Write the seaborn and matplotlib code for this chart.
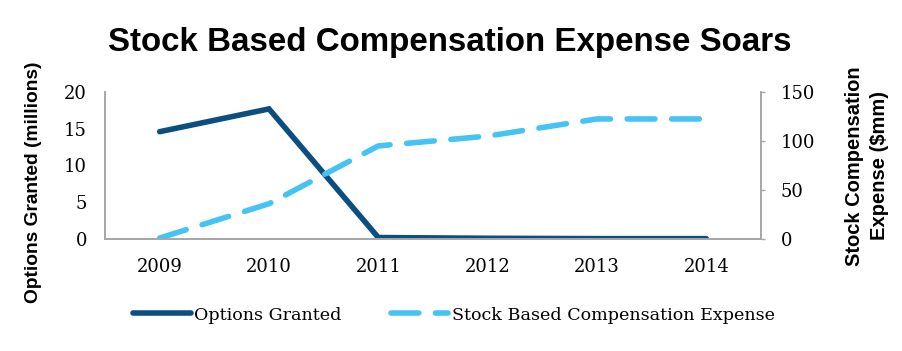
import pandas as pd
import numpy as np
import seaborn as sns
import matplotlib.pyplot as plt

years = ["2009", "2010", "2011", "2012", "2013", "2014"]
options_granted = [14.6, 17.7, 0.2, 0.1, 0.05, 0.05]  # millions
sbc_expense = [1.0, 36.0, 95.0, 105.0, 122.5, 122.5]  # $mm

dark_blue = "#0b4f80"
light_blue = "#45c4f4"
spine_gray = "#a6a6a6"

sns.set_theme(style="white")
plt.rcParams["font.family"] = ["DejaVu Serif"]
plt.rcParams["text.color"] = "black"

df = pd.DataFrame({"year": years, "options": options_granted, "sbc": sbc_expense})
df["pos"] = np.arange(len(years))

W, H = 902, 351
fig = plt.figure(figsize=(W / 100, H / 100), dpi=100)
# axes box from pixel positions: x 105..761, y 92..239
ax = fig.add_axes([105 / W, 1 - 239 / H, 656 / W, 147 / H])
ax2 = ax.twinx()

sns.lineplot(data=df, x="pos", y="options", ax=ax, color=dark_blue, linewidth=4,
             solid_capstyle="round", solid_joinstyle="miter", label="Options Granted", legend=False)
sns.lineplot(data=df, x="pos", y="sbc", ax=ax2, color=light_blue, linewidth=4,
             dashes=False, label="Stock Based Compensation Expense", legend=False)
ax2.lines[0].set_dashes([5, 3])
ax2.lines[0].set_dash_capstyle("round")

ax.set_xlim(-0.5, 5.5)
ax.set_ylim(0, 20)
ax2.set_ylim(0, 150)
ax.set_yticks([0, 5, 10, 15, 20])
ax2.set_yticks([0, 50, 100, 150])
ax.set_xticks(df["pos"])
ax.set_xticklabels(years)

for a in (ax, ax2):
    for s in a.spines.values():
        s.set_color(spine_gray)
        s.set_linewidth(1.2)
    a.spines["top"].set_visible(False)
    a.set_xlabel("")
    a.set_ylabel("")
ax.tick_params(axis="y", labelsize=13, labelcolor="black", length=0, pad=13)
ax.tick_params(axis="x", labelsize=13, labelcolor="black", length=0, pad=14)
ax2.tick_params(axis="y", labelsize=13, labelcolor="black", length=3, width=1, direction="out",
                color=spine_gray, pad=11)

fig.text(34 / W, 1 - 182 / H, "Options Granted (millions)", rotation=90, ha="center", va="center",
         fontsize=13.8, fontweight="bold", family="Liberation Sans")
fig.text(867 / W, 1 - 166 / H, "Stock Compensation\nExpense ($mm)", rotation=90, ha="center",
         va="center", fontsize=14.5, fontweight="bold", family="Liberation Sans", linespacing=1.4,
         multialignment="center")

fig.text(450 / W, 1 - 43 / H, "Stock Based Compensation Expense Soars", ha="center", va="center",
         fontsize=23.9, fontweight="bold", family="Liberation Sans")

handles = ax.lines[:1] + ax2.lines[:1]
fig.legend(handles, [h.get_label() for h in handles], loc="center", bbox_to_anchor=(454 / W, 1 - 315 / H),
           ncol=2, frameon=False, fontsize=12.6, handlelength=3.3, handletextpad=0.2,
           columnspacing=2.8)

fig.savefig("out.png", dpi=100)
